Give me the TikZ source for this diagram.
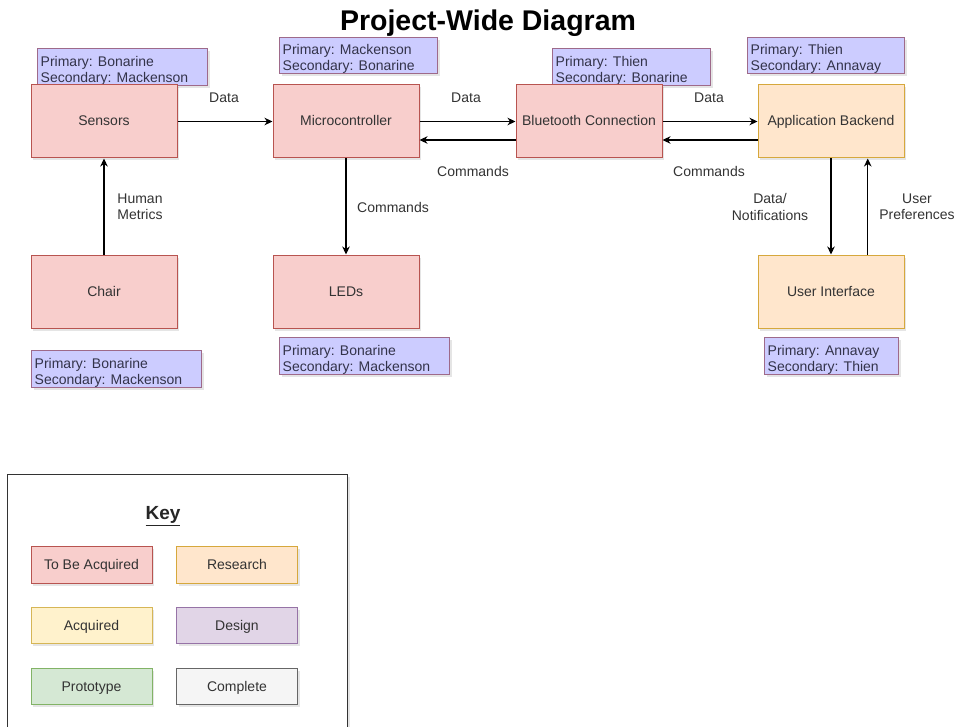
\documentclass[tikz,border=0pt]{standalone}
\usepackage{fontspec}
\setmainfont{Liberation Sans}
\usetikzlibrary{arrows.meta,shadows,calc}
\definecolor{pinkF}{HTML}{F8CECC}
\definecolor{pinkD}{HTML}{B85450}
\definecolor{orgF}{HTML}{FFE6CC}
\definecolor{orgD}{HTML}{D6A83C}
\definecolor{yelF}{HTML}{FFF2CC}
\definecolor{yelD}{HTML}{D6B656}
\definecolor{purF}{HTML}{E1D5E7}
\definecolor{purD}{HTML}{9673A6}
\definecolor{grnF}{HTML}{D5E8D4}
\definecolor{grnD}{HTML}{82B366}
\definecolor{gryF}{HTML}{F5F5F5}
\definecolor{gryD}{HTML}{666666}
\definecolor{lavF}{HTML}{CCCCFF}
\definecolor{lavD}{HTML}{9E6A8A}
\definecolor{txt}{HTML}{333333}
\definecolor{ltxt}{HTML}{33334A}
\tikzset{
  shad/.style={drop shadow={shadow xshift=2pt,shadow yshift=-2.5pt,opacity=0.1,fill=black}},
  box/.style={draw, line width=1pt, minimum width=146pt, minimum height=73pt, inner sep=0pt,
    text height=10.5pt, text depth=1.5pt,
    font=\fontsize{14}{16}\selectfont, text=txt, shad},
  pinkbox/.style={box, fill=pinkF, draw=pinkD},
  orgbox/.style={box, fill=orgF, draw=orgD},
  lbl/.style={draw=lavD, fill=lavF, line width=1pt, inner sep=0pt, anchor=north west, shad},
  lbltxt/.style={inner sep=0pt, anchor=south west, align=left, font=\fontsize{14}{15.5}\selectfont, text=ltxt},
  elbl/.style={inner sep=0pt, align=center, font=\fontsize{14}{16.5}\selectfont, text=txt},
  conn/.style={line width=1.2pt, -{Stealth[length=8pt,width=7.5pt,inset=2.5pt]}},
  keybox/.style={draw, line width=1pt, minimum width=121pt, minimum height=36.5pt, inner sep=0pt,
    text height=10.5pt, text depth=1.5pt,
    font=\fontsize{14}{16}\selectfont, text=txt, shad}
}
\begin{document}
\begin{tikzpicture}[x=1pt,y=-1pt]
\useasboundingbox (0,0) rectangle (957,727);
\fill[white] (0,0) rectangle (957,727);
% title
\node[anchor=base, inner sep=0pt, font=\bfseries\fontsize{28.5}{30}\selectfont] (title) at (488,31) {Project-Wide Diagram};
% owner labels
\node[lbl, minimum width=170pt, minimum height=37pt] (lsens) at (37,48) {};
\node[lbltxt] (tsens) at ([shift={(3.5pt,0.5pt)}]lsens.south west) {Primary: Bonarine\\Secondary: Mackenson};
\node[lbl, minimum width=158pt, minimum height=36pt] (lmicro) at (279,37) {};
\node[lbltxt] (tmicro) at ([shift={(3.5pt,0.5pt)}]lmicro.south west) {Primary: Mackenson\\Secondary: Bonarine};
\node[lbl, minimum width=158pt, minimum height=37pt] (lbt) at (552,48) {};
\node[lbltxt] (tbt) at ([shift={(3.5pt,0.5pt)}]lbt.south west) {Primary: Thien\\Secondary: Bonarine};
\node[lbl, minimum width=157pt, minimum height=36pt] (lab) at (747,37) {};
\node[lbltxt] (tab) at ([shift={(3.5pt,0.5pt)}]lab.south west) {Primary: Thien\\Secondary: Annavay};
\node[lbl, minimum width=170pt, minimum height=37pt] (lchair) at (31,350) {};
\node[lbltxt] (tchair) at ([shift={(3.5pt,0.5pt)}]lchair.south west) {Primary: Bonarine\\Secondary: Mackenson};
\node[lbl, minimum width=170pt, minimum height=37pt] (lleds) at (279,337) {};
\node[lbltxt] (tleds) at ([shift={(3.5pt,0.5pt)}]lleds.south west) {Primary: Bonarine\\Secondary: Mackenson};
\node[lbl, minimum width=134pt, minimum height=37pt] (lui) at (764,337) {};
\node[lbltxt] (tui) at ([shift={(3.5pt,0.5pt)}]lui.south west) {Primary: Annavay\\Secondary: Thien};
% main boxes
\node[pinkbox] (sens) at (104,121.5) {Sensors};
\node[pinkbox] (micro) at (346,121.5) {Microcontroller};
\node[pinkbox] (bt) at (589,121.5) {Bluetooth Connection};
\node[orgbox] (ab) at (831,121.5) {Application Backend};
\node[pinkbox] (chair) at (104,291.5) {Chair};
\node[pinkbox] (leds) at (346,291.5) {LEDs};
\node[orgbox] (ui) at (831,291.5) {User Interface};
% connectors
\draw[conn] (sens.east) -- (micro.west);
\draw[conn] (micro.east) -- (bt.west);
\draw[conn] (bt.east) -- (ab.west);
\draw[conn] ($(ab.north west)!0.75!(ab.south west)$) -- ($(bt.north east)!0.75!(bt.south east)$);
\draw[conn] ($(bt.north west)!0.75!(bt.south west)$) -- ($(micro.north east)!0.75!(micro.south east)$);
\draw[conn] (chair.north) -- (sens.south);
\draw[conn] (micro.south) -- (leds.north);
\draw[conn] (ab.south) -- (ui.north);
\draw[conn] ($(ui.north west)!0.75!(ui.north east)$) -- ($(ab.south west)!0.75!(ab.south east)$);
% connector labels
\node[elbl] (d1) at (224,98) {Data};
\node[elbl] (d2) at (466,98) {Data};
\node[elbl] (c1) at (473,171) {Commands};
\node[elbl] (d3) at (709,98) {Data};
\node[elbl] (c2) at (709,171) {Commands};
\node[elbl] (hm) at (140,207) {Human\\Metrics};
\node[elbl] (c3) at (393,207) {Commands};
\node[elbl] (dn) at (770,207) {Data/\\Notifications};
\node[elbl] (up) at (917,207) {User\\Preferences};
% key
\node[draw=txt, fill=white, line width=1.2pt, anchor=north west, minimum width=340pt, minimum height=280pt, inner sep=0pt, shad] (keyframe) at (7,474) {};
\node[inner sep=0pt, font=\bfseries\fontsize{19}{20}\selectfont, text=black!85] (keyt) at (163,516) {\underline{Key}};
\node[keybox, fill=pinkF, draw=pinkD] (k1) at (91.5,565) {To Be Acquired};
\node[keybox, fill=orgF, draw=orgD] (k2) at (237,565) {Research};
\node[keybox, fill=yelF, draw=yelD] (k3) at (91.5,625.5) {Acquired};
\node[keybox, fill=purF, draw=purD] (k4) at (237,625.5) {Design};
\node[keybox, fill=grnF, draw=grnD] (k5) at (91.5,686.5) {Prototype};
\node[keybox, fill=gryF, draw=gryD] (k6) at (237,686.5) {Complete};
\end{tikzpicture}
\end{document}
